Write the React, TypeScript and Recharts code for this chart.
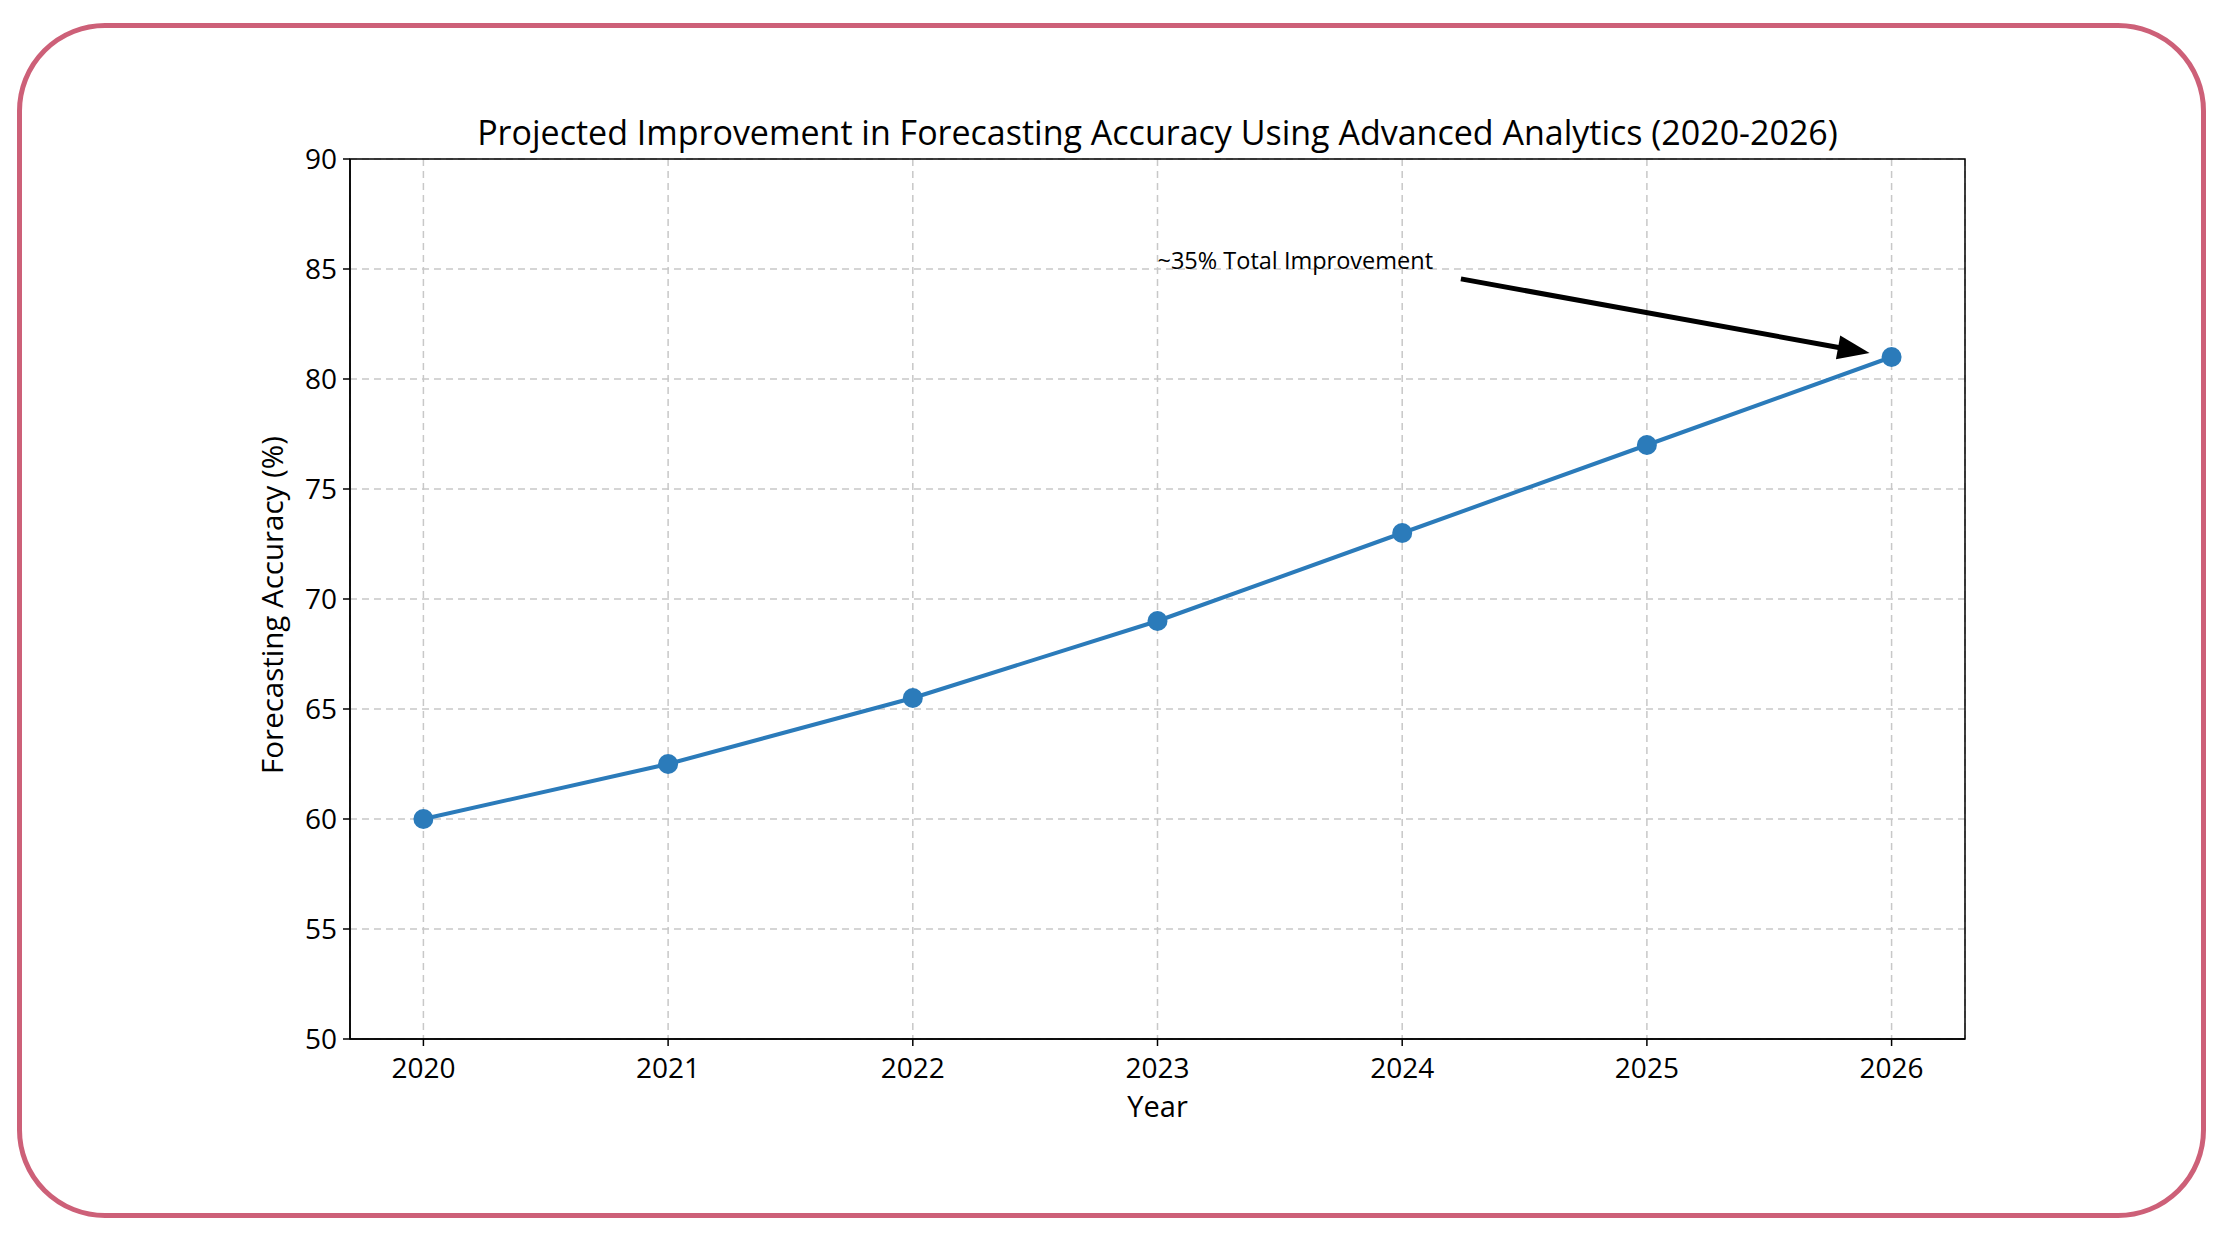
import React from 'react'
import { LineChart, Line, XAxis, YAxis, CartesianGrid, ReferenceArea, ReferenceLine, ReferenceDot } from 'recharts'

const years = [2020, 2021, 2022, 2023, 2024, 2025, 2026]
const accuracy = [60, 62.5, 65.5, 69, 73, 77, 81]
const yTicks = [50, 55, 60, 65, 70, 75, 80, 85, 90]
const xDomain = [2019.7, 2026.3]
const yDomain = [50, 90]

const noteText = '~35% Total Improvement'
const notePos = { x: 2023, y: 85 }
const arrowTail = { x: 2024.24, y: 84.55 }
const arrowHead = { x: 2025.91, y: 81.18 }

const data = years.map((year, i) => ({ year, accuracy: accuracy[i] }))

const FONT = '"Open Sans", Lato, sans-serif'
const BLUE = '#2b7bba'

function Arrow(props: any) {
  const { x1, y1, x2, y2 } = props
  const dx = x2 - x1
  const dy = y2 - y1
  const len = Math.sqrt(dx * dx + dy * dy)
  const ux = dx / len
  const uy = dy / len
  const headLen = 32
  const headW = 12
  const bx = x2 - ux * headLen
  const by = y2 - uy * headLen
  const px = -uy
  const py = ux
  return (
    <g>
      <line x1={x1} y1={y1} x2={bx + ux * 2} y2={by + uy * 2} stroke="#000" strokeWidth={5} />
      <polygon
        points={`${x2},${y2} ${bx + px * headW},${by + py * headW} ${bx - px * headW},${by - py * headW}`}
        fill="#000"
      />
    </g>
  )
}

function Note(props: any) {
  const { cx, cy } = props
  return (
    <text x={cx} y={cy} fontSize={23.5} fontFamily={FONT} fill="#000" textAnchor="start">
      {noteText}
    </text>
  )
}

export default function App() {
  const tickStyle = { fontSize: 28, fill: '#000', fontFamily: FONT }
  return (
    <div style={{ position: 'absolute', left: 0, top: 0, width: 2223, height: 1240, background: '#fff', fontFamily: FONT }}>
      <div
        style={{
          position: 'absolute',
          left: 17,
          top: 23,
          width: 2179,
          height: 1185,
          border: '5px solid #cd6078',
          borderRadius: 88,
        }}
      />
      <div style={{ position: 'absolute', left: 350, width: 1615, top: 113, textAlign: 'center', fontSize: 34, lineHeight: '38px', color: '#000', whiteSpace: 'nowrap' }}>
        Projected Improvement in Forecasting Accuracy Using Advanced Analytics (2020-2026)
      </div>
      <div style={{ position: 'absolute', left: 350, width: 1615, top: 1090, textAlign: 'center', fontSize: 29, lineHeight: '32px', color: '#000' }}>
        Year
      </div>
      <div
        style={{
          position: 'absolute',
          left: 272 - 300,
          top: 605 - 16,
          width: 600,
          textAlign: 'center',
          fontSize: 29.5,
          lineHeight: '32px',
          color: '#000',
          transform: 'rotate(-90deg)',
        }}
      >
        Forecasting Accuracy (%)
      </div>
      <div style={{ position: 'absolute', left: 0, top: 0 }}>
        <LineChart width={2223} height={1240} data={data} margin={{ top: 159, right: 258, bottom: 141, left: 270 }}>
          <CartesianGrid stroke="#c8c8c8" strokeDasharray="7 5" strokeWidth={1.5} />
          <XAxis
            dataKey="year"
            type="number"
            domain={xDomain}
            ticks={years}
            height={60}
            tick={tickStyle}
            tickSize={7}
            tickMargin={12}
            axisLine={{ stroke: '#000', strokeWidth: 1.5 }}
            tickLine={{ stroke: '#000', strokeWidth: 1.5 }}
            allowDataOverflow
          />
          <YAxis
            type="number"
            domain={yDomain}
            ticks={yTicks}
            width={80}
            tick={tickStyle}
            tickSize={7}
            tickMargin={6}
            axisLine={{ stroke: '#000', strokeWidth: 1.5 }}
            tickLine={{ stroke: '#000', strokeWidth: 1.5 }}
            allowDataOverflow
          />
          <ReferenceArea
            x1={xDomain[0]}
            x2={xDomain[1]}
            y1={yDomain[0]}
            y2={yDomain[1]}
            fill="none"
            fillOpacity={0}
            stroke="#000"
            strokeWidth={1.5}
          />
          <Line
            type="linear"
            dataKey="accuracy"
            stroke={BLUE}
            strokeWidth={4}
            dot={{ r: 10, fill: BLUE, stroke: BLUE, strokeWidth: 0 }}
            activeDot={false}
            isAnimationActive={false}
          />
          <ReferenceLine segment={[arrowTail, arrowHead]} shape={Arrow} />
          <ReferenceDot x={notePos.x} y={notePos.y} r={0} shape={Note} />
        </LineChart>
      </div>
    </div>
  )
}
